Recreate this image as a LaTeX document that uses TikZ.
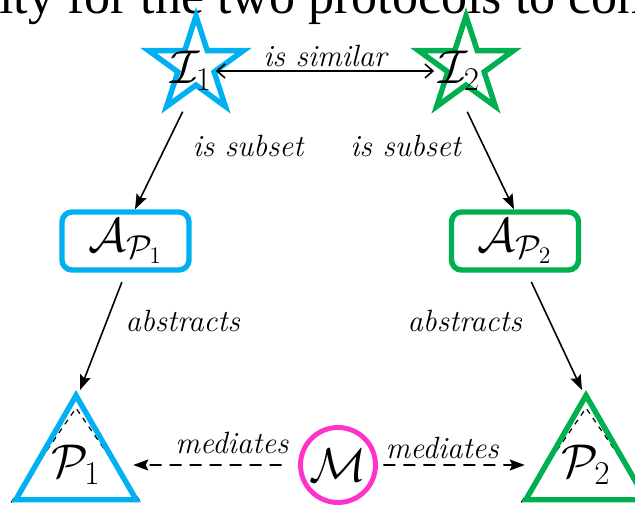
\RequirePackage{fix-cm}
\documentclass[tikz,border=0pt]{standalone}
\usepackage{fontspec}
\newfontfamily\headfont{Liberation Serif}
\usetikzlibrary{shapes.geometric, arrows.meta, calc, backgrounds}
\definecolor{protblue}{HTML}{00B0F0}
\definecolor{protgreen}{HTML}{00B050}
\definecolor{medpink}{HTML}{FF33CC}

\begin{document}
\begin{tikzpicture}[
    x=0.02cm, y=-0.02cm,
    letter/.style={font=\fontsize{27}{30}\selectfont, inner sep=2pt},
    lbl/.style={font=\fontsize{17.5}{20}\selectfont\itshape, inner sep=0pt},
    istar/.style={star, star points=5, star point ratio=2.618, minimum size=2.0cm, inner sep=0pt, line width=3.1pt, draw},
    absbox/.style={rectangle, rounded corners=0.2cm, minimum width=2.54cm, minimum height=1.16cm, line width=3.1pt, draw, font=\fontsize{27}{30}\selectfont},
    prot/.style={regular polygon, regular polygon sides=3, minimum size=2.78cm, inner sep=0pt, line width=3.1pt, draw, font=\fontsize{27}{30}\selectfont},
    arrow/.style={-{Stealth[length=0.3cm, width=0.22cm, inset=0.05cm]}, line width=0.9pt},
    darrow/.style={arrow, dash pattern=on 0.24cm off 0.16cm},
    simarrow/.style={{Straight Barb[length=0.16cm, width=0.28cm]}-{Straight Barb[length=0.16cm, width=0.28cm]}, line width=0.9pt}
]
    \useasboundingbox (0,0) rectangle (635,506);
    \clip (0,0) rectangle (635,506);

    \node[anchor=base west, inner sep=0pt, font=\headfont\fontsize{29.6}{32}\selectfont] (head) at (-1,14) {ity for the two protocols to con};

    % interfaces
    \node[istar, draw=protblue]  (star1) at (196,66) {};
    \node[istar, draw=protgreen] (star2) at (466,66) {};
    \node[letter] (i1) at (191,71) {$\mathcal{I}_1$};
    \node[letter] (i2) at (459,71) {$\mathcal{I}_2$};

    % abstractions
    \node[absbox, draw=protblue]  (ap1) at (125.5,241) {$\mathcal{A}_{\mathcal{P}_1}$};
    \node[absbox, draw=protgreen] (ap2) at (515,241)   {$\mathcal{A}_{\mathcal{P}_2}$};

    % protocols and mediator
    \node[prot, draw=protblue]  (p1) at (76,465)  {$\mathcal{P}_1$};
    \node[prot, draw=protgreen] (p2) at (586,465) {$\mathcal{P}_2$};
    \node[circle, draw=medpink, line width=2.8pt, minimum size=1.5cm, inner sep=0pt, font=\fontsize{27}{30}\selectfont] (m) at (338,465) {$\mathcal{M}$};

    \begin{scope}[on background layer]
        \draw[dashed, line width=0.7pt] (p1.corner 2) -- ($(p1.corner 1)+(0,18)$) -- (p1.corner 3);
        \draw[dashed, line width=0.7pt] (p2.corner 2) -- ($(p2.corner 1)+(0,18)$) -- (p2.corner 3);
    \end{scope}

    \draw[simarrow] (i1.east) -- node[lbl, yshift=0.3cm] {is similar} (i2.west);
    \draw[arrow, shorten <=0.38cm] (i1.south) -- node[lbl, pos=0.45, anchor=west, xshift=0.52cm] {is subset} ([xshift=0.19cm]ap1.north);
    \draw[arrow, shorten <=0.38cm] (i2.south) -- node[lbl, pos=0.45, anchor=east, xshift=-0.44cm] {is subset} ([xshift=-0.02cm]ap2.north);
    \draw[arrow, shorten <=0.2cm] (ap1.south) -- node[lbl, pos=0.41, anchor=west, xshift=0.36cm] {abstracts} ([xshift=0.08cm]p1.north);
    \draw[arrow, shorten <=0.2cm] ([xshift=0.24cm]ap2.south) -- node[lbl, pos=0.41, anchor=east, xshift=-0.54cm] {abstracts} ([xshift=-0.08cm]p2.north);
    \draw[darrow, shorten <=0.33cm, shorten >=0.28cm] (m) -- node[lbl, pos=0.37, yshift=0.44cm] {mediates} (p1);
    \draw[darrow, shorten <=0.11cm, shorten >=0.36cm] (m) -- node[lbl, pos=0.39, yshift=0.34cm] {mediates} (p2);
\end{tikzpicture}
\end{document}
